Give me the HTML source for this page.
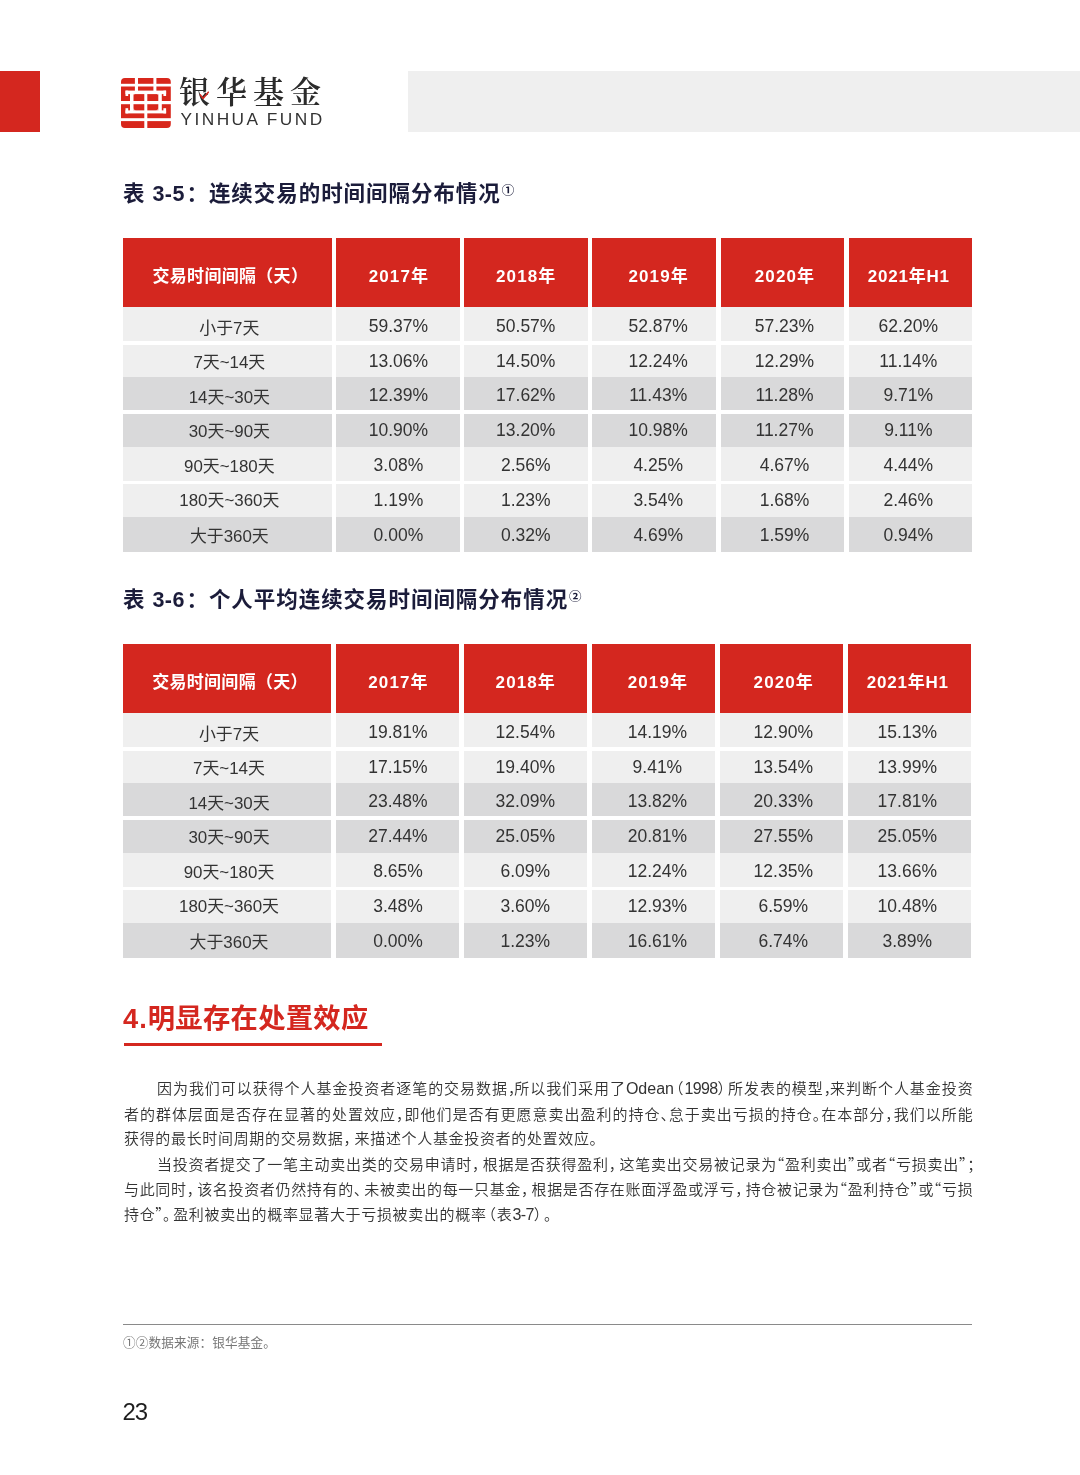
<!DOCTYPE html>
<html lang="zh-CN">
<head>
<meta charset="utf-8">
<title>银华基金 - 23</title>
<style>
html,body{margin:0;padding:0;background:#fff;}
body{width:1080px;height:1475px;position:relative;overflow:hidden;font-family:"Liberation Sans","Noto Sans CJK SC",sans-serif;color:#333;}
.abs{position:absolute;}
.redblk{left:0;top:71px;width:40px;height:61px;background:#d4271f;}
.grayblk{left:408px;top:71px;width:672px;height:61px;background:#efefef;}

.brand-cn{left:179px;top:75px;font-family:"Liberation Serif","Noto Serif CJK SC",serif;font-size:31px;line-height:36px;letter-spacing:6px;color:#2b2b2b;white-space:nowrap;font-weight:600;}
.brand-en{left:180.5px;top:109px;font-size:17.3px;line-height:20px;color:#333;white-space:nowrap;letter-spacing:2.45px;}
.ttl{left:123px;font-size:21.5px;letter-spacing:0.95px;line-height:30px;font-weight:700;color:#1b1c3a;white-space:nowrap;}
.ttl .n{letter-spacing:0.5px;margin-right:1.5px;}
.ttl sup{font-size:12.5px;font-weight:700;vertical-align:baseline;position:relative;top:-6px;margin-left:1px;letter-spacing:0;line-height:1;}
.tbl{position:absolute;left:0;width:1080px;height:314px;}
.tr{position:absolute;left:0;width:1080px;height:35px;}
.tr.th{top:0;height:69px;}
.td{position:absolute;top:0;height:100%;text-align:center;font-size:17.5px;line-height:35px;color:#333;white-space:nowrap;}
.th .td{background:#d4271f;color:#fff;font-weight:700;font-size:17px;letter-spacing:0.3px;line-height:78px;}
.lt .td{background:#efefef;}
.dk .td{background:#d9d9da;}
.td.c0{font-size:16.9px;box-sizing:border-box;padding-left:4px;}
.td{box-sizing:border-box;padding-left:1px;}
.th .td.h0{padding-left:6px;}
.th .td.hn{letter-spacing:1.1px;}
.th .td.h5{letter-spacing:0.8px;}
.sep{position:absolute;left:100px;width:900px;height:3.6px;background:#fff;}
.h2{left:123px;top:999px;font-size:27.3px;line-height:40px;font-weight:700;color:#d4271f;white-space:nowrap;letter-spacing:0.3px;}
.h2 .n{letter-spacing:1.0px;}
.h2line{left:123.5px;top:1043px;width:258px;height:3px;background:#d4271f;}
.bl{position:absolute;font-size:15px;letter-spacing:1px;line-height:24px;color:#333;white-space:nowrap;font-weight:350;font-feature-settings:"halt";}
.bl .la{font-size:16px;letter-spacing:0;}
.bl .dg{font-size:16px;letter-spacing:-0.6px;}
.bl .p{margin-right:var(--ps);}
.bl .po{margin-left:2px;}
.bl .pc{margin-right:2px;}
.bl .ql,.bl .qr{font-family:"Noto Sans CJK SC",sans-serif;}
.bl .ql{margin-left:calc(-2.5px + var(--ps));}
.bl .qr{margin-right:calc(-2.5px + var(--ps));}
.fline{left:123px;top:1323.8px;width:849px;height:1.2px;background:#8a8a8a;}
.fnote{left:123px;top:1334px;font-size:12.6px;line-height:18px;color:#777;white-space:nowrap;letter-spacing:0.15px;font-weight:400;}
.pno{left:122.5px;top:1396px;font-size:24px;line-height:32px;color:#1e1e1e;white-space:nowrap;letter-spacing:-1px;}
</style>
</head>
<body>
<div class="abs redblk"></div>
<div class="abs grayblk"></div>
<svg class="abs logo" style="left:120.6px;top:77.6px" width="50" height="50" viewBox="0 0 50 50">
<rect x="0" y="0" width="49.8" height="50" rx="3.9" fill="#d8271c"/>
<g fill="#fff">
<rect x="0" y="5.8" width="50" height="2.7"/>
<rect x="13.9" y="0" width="3.1" height="13"/>
<rect x="32.4" y="0" width="3.0" height="13"/>
<rect x="4.5" y="12.6" width="40.6" height="3.5"/>
<rect x="4.5" y="12.6" width="2.7" height="5.4"/>
<rect x="42.4" y="12.6" width="2.7" height="5.4"/>
<rect x="9.0" y="16" width="3.5" height="19"/>
<rect x="37.3" y="16" width="3.5" height="19"/>
<rect x="23.3" y="16" width="3.0" height="34"/>
<rect x="0" y="23" width="50" height="3.2"/>
<rect x="4.5" y="32.4" width="40.6" height="3.0"/>
<rect x="4.5" y="30.2" width="2.7" height="5.2"/>
<rect x="42.4" y="30.2" width="2.7" height="5.2"/>
<rect x="0" y="40.2" width="50" height="2.9"/>
<path d="M12.5 16.1h1.5a1.5 1.5 0 0 0-1.5 1.5z"/>
<path d="M37.3 16.1h-1.5a1.5 1.5 0 0 1 1.5 1.5z"/>
<path d="M12.5 32.4h3a3 3 0 0 1-3-3z"/>
<path d="M37.3 32.4h-3a3 3 0 0 0 3-3z"/>
</g>
</svg>
<div class="abs brand-cn">银华基金</div>
<svg class="abs" style="left:198px;top:90px" width="14" height="12" viewBox="0 0 14 12"><path d="M2.2 4.8L5.1 8.5L10.3 2.2" fill="none" stroke="#d4271f" stroke-width="1.5" stroke-linecap="round" stroke-linejoin="round"/></svg>
<div class="abs brand-en">YINHUA FUND</div>

<div class="abs ttl" style="top:179px">表 <span class="n">3-5</span>：连续交易的时间间隔分布情况<sup>①</sup></div>
<div class="tbl t1" style="top:238px">
<div class="tr th">
<div class="td h0" style="left:123px;width:208.7px">交易时间间隔（天）</div>
<div class="td hn" style="left:336px;width:124.0px;padding-left:1.8px">2017年</div>
<div class="td hn" style="left:464.3px;width:123.7px;padding-left:0.2px">2018年</div>
<div class="td hn" style="left:592.3px;width:123.7px;padding-left:9.1px">2019年</div>
<div class="td hn" style="left:720.8px;width:123.7px;padding-left:4.7px">2020年</div>
<div class="td hn h5" style="left:848.8px;width:123.4px;padding-left:0;padding-right:3.4px">2021年H1</div>
</div>
<div class="tr lt" style="top:69px;height:35px">
<div class="td c0" style="left:123px;width:208.7px;line-height:43.8px">小于7天</div>
<div class="td" style="left:336px;width:124.0px;line-height:38.4px;padding-left:0.8px">59.37%</div>
<div class="td" style="left:464.3px;width:123.7px;line-height:38.4px;padding-left:0;padding-right:0.8px">50.57%</div>
<div class="td" style="left:592.3px;width:123.7px;line-height:38.4px;padding-left:8.1px">52.87%</div>
<div class="td" style="left:720.8px;width:123.7px;line-height:38.4px;padding-left:3.7px">57.23%</div>
<div class="td" style="left:848.8px;width:123.4px;line-height:38.4px;padding-left:0;padding-right:4.4px">62.20%</div>
</div>
<div class="tr lt" style="top:104px;height:35px">
<div class="td c0" style="left:123px;width:208.7px;line-height:42.7px">7天~14天</div>
<div class="td" style="left:336px;width:124.0px;line-height:38.0px;padding-left:0.8px">13.06%</div>
<div class="td" style="left:464.3px;width:123.7px;line-height:38.0px;padding-left:0;padding-right:0.8px">14.50%</div>
<div class="td" style="left:592.3px;width:123.7px;line-height:38.0px;padding-left:8.1px">12.24%</div>
<div class="td" style="left:720.8px;width:123.7px;line-height:38.0px;padding-left:3.7px">12.29%</div>
<div class="td" style="left:848.8px;width:123.4px;line-height:38.0px;padding-left:0;padding-right:4.4px">11.14%</div>
</div>
<div class="tr dk" style="top:139px;height:35px">
<div class="td c0" style="left:123px;width:208.7px;line-height:41.6px">14天~30天</div>
<div class="td" style="left:336px;width:124.0px;line-height:37.6px;padding-left:0.8px">12.39%</div>
<div class="td" style="left:464.3px;width:123.7px;line-height:37.6px;padding-left:0;padding-right:0.8px">17.62%</div>
<div class="td" style="left:592.3px;width:123.7px;line-height:37.6px;padding-left:8.1px">11.43%</div>
<div class="td" style="left:720.8px;width:123.7px;line-height:37.6px;padding-left:3.7px">11.28%</div>
<div class="td" style="left:848.8px;width:123.4px;line-height:37.6px;padding-left:0;padding-right:4.4px">9.71%</div>
</div>
<div class="tr dk" style="top:174px;height:35px">
<div class="td c0" style="left:123px;width:208.7px;line-height:40.5px">30天~90天</div>
<div class="td" style="left:336px;width:124.0px;line-height:37.2px;padding-left:0.8px">10.90%</div>
<div class="td" style="left:464.3px;width:123.7px;line-height:37.2px;padding-left:0;padding-right:0.8px">13.20%</div>
<div class="td" style="left:592.3px;width:123.7px;line-height:37.2px;padding-left:8.1px">10.98%</div>
<div class="td" style="left:720.8px;width:123.7px;line-height:37.2px;padding-left:3.7px">11.27%</div>
<div class="td" style="left:848.8px;width:123.4px;line-height:37.2px;padding-left:0;padding-right:4.4px">9.11%</div>
</div>
<div class="tr lt" style="top:209px;height:35px">
<div class="td c0" style="left:123px;width:208.7px;line-height:39.4px">90天~180天</div>
<div class="td" style="left:336px;width:124.0px;line-height:36.8px;padding-left:0.8px">3.08%</div>
<div class="td" style="left:464.3px;width:123.7px;line-height:36.8px;padding-left:0;padding-right:0.8px">2.56%</div>
<div class="td" style="left:592.3px;width:123.7px;line-height:36.8px;padding-left:8.1px">4.25%</div>
<div class="td" style="left:720.8px;width:123.7px;line-height:36.8px;padding-left:3.7px">4.67%</div>
<div class="td" style="left:848.8px;width:123.4px;line-height:36.8px;padding-left:0;padding-right:4.4px">4.44%</div>
</div>
<div class="tr lt" style="top:244px;height:35px">
<div class="td c0" style="left:123px;width:208.7px;line-height:38.3px">180天~360天</div>
<div class="td" style="left:336px;width:124.0px;line-height:36.4px;padding-left:0.8px">1.19%</div>
<div class="td" style="left:464.3px;width:123.7px;line-height:36.4px;padding-left:0;padding-right:0.8px">1.23%</div>
<div class="td" style="left:592.3px;width:123.7px;line-height:36.4px;padding-left:8.1px">3.54%</div>
<div class="td" style="left:720.8px;width:123.7px;line-height:36.4px;padding-left:3.7px">1.68%</div>
<div class="td" style="left:848.8px;width:123.4px;line-height:36.4px;padding-left:0;padding-right:4.4px">2.46%</div>
</div>
<div class="tr dk" style="top:279px;height:35px">
<div class="td c0" style="left:123px;width:208.7px;line-height:40.2px">大于360天</div>
<div class="td" style="left:336px;width:124.0px;line-height:36.0px;padding-left:0.8px">0.00%</div>
<div class="td" style="left:464.3px;width:123.7px;line-height:36.0px;padding-left:0;padding-right:0.8px">0.32%</div>
<div class="td" style="left:592.3px;width:123.7px;line-height:36.0px;padding-left:8.1px">4.69%</div>
<div class="td" style="left:720.8px;width:123.7px;line-height:36.0px;padding-left:3.7px">1.59%</div>
<div class="td" style="left:848.8px;width:123.4px;line-height:36.0px;padding-left:0;padding-right:4.4px">0.94%</div>
</div>
<div class="sep" style="top:103.4px;height:3.6px"></div>
<div class="sep" style="top:172.4px;height:3.5px"></div>
<div class="sep" style="top:242.5px;height:3.6px"></div>
</div>
<div class="abs ttl" style="top:585px">表 <span class="n">3-6</span>：个人平均连续交易时间间隔分布情况<sup>②</sup></div>
<div class="tbl t2" style="top:644px">
<div class="tr th">
<div class="td h0" style="left:123px;width:208.0px">交易时间间隔（天）</div>
<div class="td hn" style="left:335.6px;width:123.4px;padding-left:2.4px">2017年</div>
<div class="td hn" style="left:463.6px;width:123.7px;padding-left:0.7px">2018年</div>
<div class="td hn" style="left:591.7px;width:123.6px;padding-left:8.8px">2019年</div>
<div class="td hn" style="left:719.7px;width:123.6px;padding-left:4.6px">2020年</div>
<div class="td hn h5" style="left:847.6px;width:123.3px;padding-left:0;padding-right:2.9px">2021年H1</div>
</div>
<div class="tr lt" style="top:69px;height:35px">
<div class="td c0" style="left:123px;width:208.0px;line-height:43.8px">小于7天</div>
<div class="td" style="left:335.6px;width:123.4px;line-height:38.4px;padding-left:1.4px">19.81%</div>
<div class="td" style="left:463.6px;width:123.7px;line-height:38.4px;padding-left:0;padding-right:0.3px">12.54%</div>
<div class="td" style="left:591.7px;width:123.6px;line-height:38.4px;padding-left:7.8px">14.19%</div>
<div class="td" style="left:719.7px;width:123.6px;line-height:38.4px;padding-left:3.6px">12.90%</div>
<div class="td" style="left:847.6px;width:123.3px;line-height:38.4px;padding-left:0;padding-right:3.9px">15.13%</div>
</div>
<div class="tr lt" style="top:104px;height:35px">
<div class="td c0" style="left:123px;width:208.0px;line-height:42.7px">7天~14天</div>
<div class="td" style="left:335.6px;width:123.4px;line-height:38.0px;padding-left:1.4px">17.15%</div>
<div class="td" style="left:463.6px;width:123.7px;line-height:38.0px;padding-left:0;padding-right:0.3px">19.40%</div>
<div class="td" style="left:591.7px;width:123.6px;line-height:38.0px;padding-left:7.8px">9.41%</div>
<div class="td" style="left:719.7px;width:123.6px;line-height:38.0px;padding-left:3.6px">13.54%</div>
<div class="td" style="left:847.6px;width:123.3px;line-height:38.0px;padding-left:0;padding-right:3.9px">13.99%</div>
</div>
<div class="tr dk" style="top:139px;height:35px">
<div class="td c0" style="left:123px;width:208.0px;line-height:41.6px">14天~30天</div>
<div class="td" style="left:335.6px;width:123.4px;line-height:37.6px;padding-left:1.4px">23.48%</div>
<div class="td" style="left:463.6px;width:123.7px;line-height:37.6px;padding-left:0;padding-right:0.3px">32.09%</div>
<div class="td" style="left:591.7px;width:123.6px;line-height:37.6px;padding-left:7.8px">13.82%</div>
<div class="td" style="left:719.7px;width:123.6px;line-height:37.6px;padding-left:3.6px">20.33%</div>
<div class="td" style="left:847.6px;width:123.3px;line-height:37.6px;padding-left:0;padding-right:3.9px">17.81%</div>
</div>
<div class="tr dk" style="top:174px;height:35px">
<div class="td c0" style="left:123px;width:208.0px;line-height:40.5px">30天~90天</div>
<div class="td" style="left:335.6px;width:123.4px;line-height:37.2px;padding-left:1.4px">27.44%</div>
<div class="td" style="left:463.6px;width:123.7px;line-height:37.2px;padding-left:0;padding-right:0.3px">25.05%</div>
<div class="td" style="left:591.7px;width:123.6px;line-height:37.2px;padding-left:7.8px">20.81%</div>
<div class="td" style="left:719.7px;width:123.6px;line-height:37.2px;padding-left:3.6px">27.55%</div>
<div class="td" style="left:847.6px;width:123.3px;line-height:37.2px;padding-left:0;padding-right:3.9px">25.05%</div>
</div>
<div class="tr lt" style="top:209px;height:35px">
<div class="td c0" style="left:123px;width:208.0px;line-height:39.4px">90天~180天</div>
<div class="td" style="left:335.6px;width:123.4px;line-height:36.8px;padding-left:1.4px">8.65%</div>
<div class="td" style="left:463.6px;width:123.7px;line-height:36.8px;padding-left:0;padding-right:0.3px">6.09%</div>
<div class="td" style="left:591.7px;width:123.6px;line-height:36.8px;padding-left:7.8px">12.24%</div>
<div class="td" style="left:719.7px;width:123.6px;line-height:36.8px;padding-left:3.6px">12.35%</div>
<div class="td" style="left:847.6px;width:123.3px;line-height:36.8px;padding-left:0;padding-right:3.9px">13.66%</div>
</div>
<div class="tr lt" style="top:244px;height:35px">
<div class="td c0" style="left:123px;width:208.0px;line-height:38.3px">180天~360天</div>
<div class="td" style="left:335.6px;width:123.4px;line-height:36.4px;padding-left:1.4px">3.48%</div>
<div class="td" style="left:463.6px;width:123.7px;line-height:36.4px;padding-left:0;padding-right:0.3px">3.60%</div>
<div class="td" style="left:591.7px;width:123.6px;line-height:36.4px;padding-left:7.8px">12.93%</div>
<div class="td" style="left:719.7px;width:123.6px;line-height:36.4px;padding-left:3.6px">6.59%</div>
<div class="td" style="left:847.6px;width:123.3px;line-height:36.4px;padding-left:0;padding-right:3.9px">10.48%</div>
</div>
<div class="tr dk" style="top:279px;height:35px">
<div class="td c0" style="left:123px;width:208.0px;line-height:40.2px">大于360天</div>
<div class="td" style="left:335.6px;width:123.4px;line-height:36.0px;padding-left:1.4px">0.00%</div>
<div class="td" style="left:463.6px;width:123.7px;line-height:36.0px;padding-left:0;padding-right:0.3px">1.23%</div>
<div class="td" style="left:591.7px;width:123.6px;line-height:36.0px;padding-left:7.8px">16.61%</div>
<div class="td" style="left:719.7px;width:123.6px;line-height:36.0px;padding-left:3.6px">6.74%</div>
<div class="td" style="left:847.6px;width:123.3px;line-height:36.0px;padding-left:0;padding-right:3.9px">3.89%</div>
</div>
<div class="sep" style="top:103.4px;height:3.6px"></div>
<div class="sep" style="top:172.4px;height:3.5px"></div>
<div class="sep" style="top:242.5px;height:3.6px"></div>
</div>

<div class="abs h2"><span class="n">4.</span>明显存在处置效应</div>
<div class="abs h2line"></div>
<div class="bl" style="left:157px;top:1077px;letter-spacing:0.95px;--ps:-2.12px">因为我们可以获得个人基金投资者逐笔的交易数据<span class="p">，</span>所以我们采用了<span class="la">Odean</span><span class="po">（</span><span class="dg">1998</span><span class="pc">）</span>所发表的模型<span class="p">，</span>来判断个人基金投资</div>
<div class="bl" style="left:124px;top:1103px;letter-spacing:1.0px;--ps:-0.11px">者的群体层面是否存在显著的处置效应<span class="p">，</span>即他们是否有更愿意卖出盈利的持仓<span class="p">、</span>怠于卖出亏损的持仓<span class="p">。</span>在本部分<span class="p">，</span>我们以所能</div>
<div class="bl" style="left:124px;top:1127px;letter-spacing:0.67px;--ps:3.00px">获得的最长时间周期的交易数据<span class="p">，</span>来描述个人基金投资者的处置效应。</div>
<div class="bl" style="left:157px;top:1152px;letter-spacing:0.75px;--ps:2.42px">当投资者提交了一笔主动卖出类的交易申请时<span class="p">，</span>根据是否获得盈利<span class="p">，</span>这笔卖出交易被记录为<span class="ql">“</span>盈利卖出<span class="qr">”</span>或者<span class="ql">“</span>亏损卖出<span class="qr">”</span>；</div>
<div class="bl" style="left:124px;top:1177px;letter-spacing:0.67px;--ps:2.30px">与此同时<span class="p">，</span>该名投资者仍然持有的<span class="p">、</span>未被卖出的每一只基金<span class="p">，</span>根据是否存在账面浮盈或浮亏<span class="p">，</span>持仓被记录为<span class="ql">“</span>盈利持仓<span class="qr">”</span>或<span class="ql">“</span>亏损</div>
<div class="bl" style="left:124px;top:1202px;letter-spacing:0.67px;--ps:2.00px">持仓<span class="qr">”</span><span class="p">。</span>盈利被卖出的概率显著大于亏损被卖出的概率<span class="po">（</span>表<span class="dg">3-7</span><span class="pc">）</span>。</div>
<div class="abs fline"></div>
<div class="abs fnote">①②数据来源：银华基金。</div>
<div class="abs pno">23</div>
</body>
</html>
